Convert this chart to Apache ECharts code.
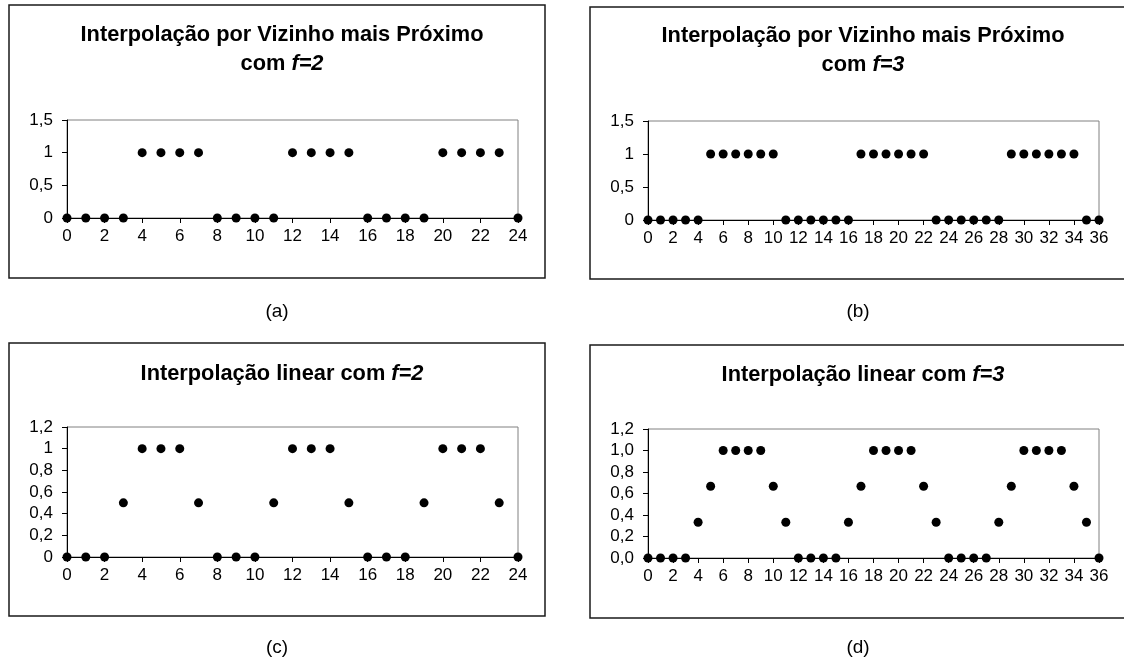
<!DOCTYPE html>
<html>
<head>
<meta charset="utf-8">
<script src="https://cdn.jsdelivr.net/npm/echarts@6/dist/echarts.min.js"></script>
<style>
	html, body { margin: 0; padding: 0; background: #fff; }
	#main { width: 1124px; height: 664px; }
</style>
</head>
<body>
<div id="main"></div>
<script>
// x do sinal interpolado
var xF2 = [0,1,2,3,4,5,6,7,8,9,10,11,12,13,14,15,16,17,18,19,20,21,22,23,24];
var xF3 = [0,1,2,3,4,5,6,7,8,9,10,11,12,13,14,15,16,17,18,19,20,21,22,23,24,25,26,27,28,29,30,31,32,33,34,35,36];

// (a) vizinho mais proximo f=2
var yVizF2 = [0,0,0,0,1,1,1,1,0,0,0,0,1,1,1,1,0,0,0,0,1,1,1,1,0];
// (b) vizinho mais proximo f=3
var yVizF3 = [0,0,0,0,0,1,1,1,1,1,1,0,0,0,0,0,0,1,1,1,1,1,1,0,0,0,0,0,0,1,1,1,1,1,1,0,0];
// (c) linear f=2
var yLinF2 = [0,0,0,0.5,1,1,1,0.5,0,0,0,0.5,1,1,1,0.5,0,0,0,0.5,1,1,1,0.5,0];
// (d) linear f=3
var yLinF3 = [0,0,0,0,0.333,0.667,1,1,1,1,0.667,0.333,0,0,0,0,0.333,0.667,1,1,1,1,0.667,0.333,0,0,0,0,0.333,0.667,1,1,1,1,0.667,0.333,0];

// rotulos do eixo y
var yTicksViz = ['0','0,5','1','1,5'];
var yTicksLinF2 = ['0','0,2','0,4','0,6','0,8','1','1,2'];
var yTicksLinF3 = ['0,0','0,2','0,4','0,6','0,8','1,0','1,2'];

var titles = [
	['Interpolação por Vizinho mais Próximo', 'com ', 'f=2'],
	['Interpolação por Vizinho mais Próximo', 'com ', 'f=3'],
	['Interpolação linear com ', '', 'f=2'],
	['Interpolação linear com ', '', 'f=3']
];
var captions = ['(a)', '(b)', '(c)', '(d)'];

var FONT = "'Liberation Sans', Arial, sans-serif";

function pairs(xs, ys){
	var out = [];
	for (var i = 0; i < xs.length; i++) {
		out.push([xs[i], ys[i]]);
	}
	return out;
}

// painel: caixa, grid, titulo, legenda
var panels = [
	{box:[9,5,536,273],   grid:{left:67, top:120, width:451, height:98},  cx:277, ty:15,  cy:312, xmax:24, ymax:1.5, step:0.5, ticks:yTicksViz,   data:pairs(xF2, yVizF2)},
	{box:[590,7,540,272], grid:{left:648, top:121, width:451, height:99}, cx:858, ty:16,  cy:312, xmax:36, ymax:1.5, step:0.5, ticks:yTicksViz,   data:pairs(xF3, yVizF3)},
	{box:[9,343,536,273], grid:{left:67, top:427, width:451, height:130}, cx:277, ty:354, cy:648, xmax:24, ymax:1.2, step:0.2, ticks:yTicksLinF2, data:pairs(xF2, yLinF2)},
	{box:[590,345,540,273], grid:{left:648, top:429, width:451, height:129}, cx:858, ty:355, cy:648, xmax:36, ymax:1.2, step:0.2, ticks:yTicksLinF3, data:pairs(xF3, yLinF3)}
];

var option = {
	backgroundColor: '#fff',
	animation: false,
	title: [],
	grid: [],
	xAxis: [],
	yAxis: [],
	series: [],
	graphic: []
};

panels.forEach(function(p, i){
	var t = titles[i];
	var text = t[1] === '' ? '{b|' + t[0] + '}{i|' + t[2] + '}' : '{b|' + t[0] + '}\n{b|' + t[1] + '}{i|' + t[2] + '}';
	option.title.push({
		text: text,
		left: p.cx,
		top: p.ty,
		textAlign: 'center',
		textStyle: {
			lineHeight: 29,
			rich: {
				b: {fontFamily: FONT, fontWeight: 'bold', fontSize: 21.8, color: '#000', lineHeight: 29},
				i: {fontFamily: FONT, fontWeight: 'bold', fontStyle: 'italic', fontSize: 21.8, color: '#000', lineHeight: 29}
			}
		}
	});

	option.grid.push({
		left: p.grid.left, top: p.grid.top, width: p.grid.width, height: p.grid.height,
		show: true, borderColor: '#808080', borderWidth: 1, backgroundColor: '#fff'
	});

	option.xAxis.push({
		type: 'value', gridIndex: i, min: 0, max: p.xmax, interval: 2,
		axisLine: {onZero: false, lineStyle: {color: '#000', width: 1}},
		axisTick: {show: true, length: 5, lineStyle: {color: '#000'}},
		axisLabel: {color: '#000', fontFamily: FONT, fontSize: 17, margin: 10, showMaxLabel: true},
		splitLine: {show: false}
	});

	var ticks = p.ticks;
	var step = p.step;
	option.yAxis.push({
		type: 'value', gridIndex: i, min: 0, max: p.ymax, interval: step,
		axisLine: {show: true, onZero: false, lineStyle: {color: '#000', width: 1}},
		axisTick: {show: true, length: 5, lineStyle: {color: '#000'}},
		axisLabel: {
			color: '#000', fontFamily: FONT, fontSize: 17, margin: 14,
			formatter: function(v){ return ticks[Math.round(v / step)]; }
		},
		splitLine: {show: false}
	});

	option.series.push({
		type: 'scatter', xAxisIndex: i, yAxisIndex: i,
		symbol: 'circle', symbolSize: 9, clip: false,
		itemStyle: {color: '#000', opacity: 1},
		data: p.data
	});

	// moldura do painel
	option.graphic.push({
		type: 'rect', silent: true, z: -1,
		shape: {x: p.box[0], y: p.box[1], width: p.box[2], height: p.box[3]},
		style: {fill: null, stroke: '#1a1a1a', lineWidth: 1.5}
	});
	// legenda (a) (b) ...
	option.graphic.push({
		type: 'text', silent: true,
		x: p.cx, y: p.cy,
		style: {text: captions[i], font: '19px ' + FONT, fill: '#000', textAlign: 'center', textVerticalAlign: 'middle'}
	});
});

var chart = echarts.init(document.getElementById('main'));
chart.setOption(option);
</script>
</body>
</html>
